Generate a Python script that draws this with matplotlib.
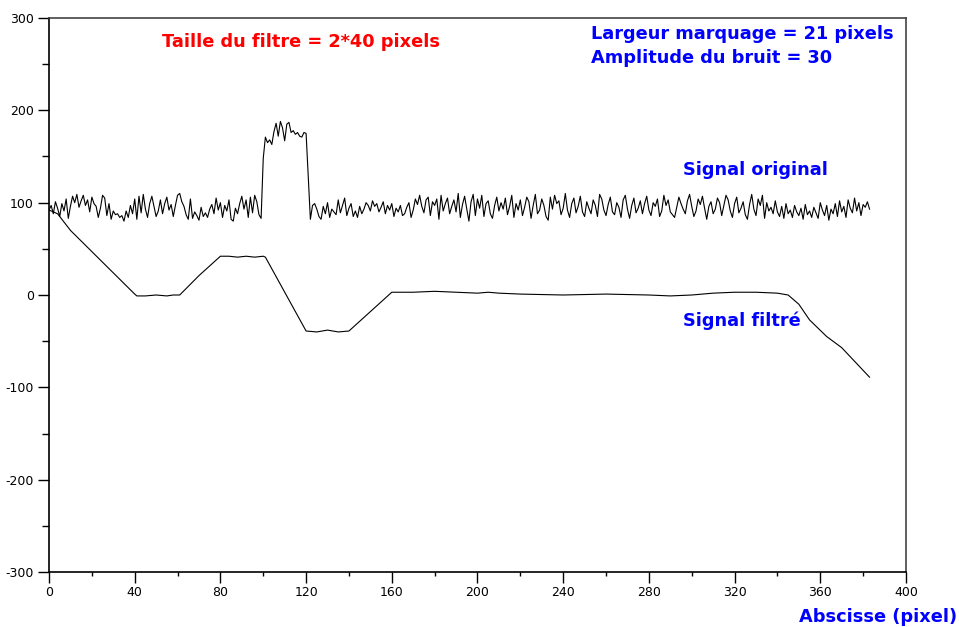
import numpy as np
import matplotlib
matplotlib.use("Agg")
from matplotlib import pyplot as plt
from matplotlib.ticker import MultipleLocator

# signal original : bruit sur 0..99, marquage 100..120, bruit 121..383
bruit_debut = [
    92, 97, 88, 101, 94, 85, 99, 91, 104, 83,
    96, 107, 100, 109, 95, 102, 108, 97, 103, 90,
    106, 99, 96, 84, 94, 108, 105, 86, 99, 82,
    91, 87, 88, 84, 86, 80, 91, 84, 97, 88,
    104, 82, 107, 89, 109, 93, 84, 99, 107, 96,
    85, 91, 103, 88, 99, 106, 92, 98, 85, 97,
    108, 110, 101, 96, 87, 82, 104, 83, 90, 86,
    81, 95, 85, 89, 84, 93, 98, 88, 105, 92,
    100, 84, 97, 91, 103, 82, 80, 94, 88, 99,
    107, 93, 103, 84, 106, 89, 108, 101, 87, 83,
]
marquage = [
    148, 171, 165, 168, 163, 177, 186, 172, 188, 181, 167,
    185, 187, 176, 178, 174, 176, 172, 171, 176, 175,
]
bruit_fin = [
    128, 82, 97, 99, 93, 85, 82, 96, 88, 100,
    84, 93, 90, 87, 103, 89, 97, 105, 86, 94,
    99, 85, 91, 84, 96, 88, 93, 100, 97, 91,
    102, 96, 99, 90, 95, 101, 88, 97, 92, 99,
    85, 94, 90, 97, 86, 88, 95, 100, 84, 92,
    104, 98, 108, 96, 89, 103, 106, 86, 101, 97,
    104, 82, 108, 91, 99, 105, 88, 96, 103, 90,
    110, 84, 98, 107, 93, 80, 101, 109, 86, 104,
    94, 108, 85, 99, 102, 88, 83, 97, 106, 91,
    100, 93, 105, 87, 96, 108, 84, 99, 92, 103,
    86, 95, 106, 101, 83, 97, 109, 88, 92, 104,
    97, 85, 81, 106, 93, 108, 99, 102, 87, 94,
    110, 92, 84, 99, 105, 89, 96, 107, 90, 85,
    101, 94, 88, 103, 97, 85, 109, 104, 92, 86,
    98, 106, 90, 87, 100, 95, 84, 103, 108, 93,
    83, 97, 105, 89, 94, 102, 88, 99, 107, 92,
    86, 100, 96, 104, 85, 91, 108, 97, 103, 90,
    87, 84, 95, 106, 99, 93, 88, 102, 109, 96,
    85, 91, 104, 98, 107, 94, 82, 96, 101, 88,
    93, 105, 100, 86, 97, 108, 103, 91, 84, 99,
    106, 89, 94, 101, 87, 82, 98, 109, 93, 86,
    104, 97, 108, 83, 100, 91, 95, 88, 102, 90,
    85, 96, 83, 99, 88, 92, 84, 97, 90, 86,
    94, 82, 98, 87, 91, 84, 95, 89, 83, 100,
    92, 86, 97, 81, 93, 88, 99, 85, 102, 90,
    96, 84, 103, 94, 89, 105, 91, 100, 86, 98,
    95, 101, 93,
]
signal_original = bruit_debut + marquage + bruit_fin

# signal filtre (points releves)
filtre_x = [0, 4, 10, 20, 30, 40, 41, 45, 50, 55, 58, 61, 70, 80, 84, 88, 92, 96,
            100, 101, 120, 125, 130, 135, 140, 160, 170, 180,
            190, 200, 205, 210, 220, 240, 260, 280, 290, 300, 310, 320, 330, 340, 345, 350,
            355, 363, 370, 383]
filtre_y = [92, 88, 70, 47, 24, 1, -1, -1, 0, -1, 0, 0, 21, 42, 42, 41, 42, 41,
            42, 41, -39, -40, -38, -40, -39, 3, 3, 4,
            3, 2, 3, 2, 1, 0, 1, 0, -1, 0, 2, 3, 3, 2, 0, -10,
            -27, -45, -57, -89]

plt.rcParams['axes.unicode_minus'] = False

fig = plt.figure(figsize=(9.59, 6.27), dpi=100)
ax = fig.add_axes([0.0511, 0.0877, 0.8936, 0.8836])

x = np.arange(len(signal_original))
ax.plot(x, signal_original, color='black', lw=0.8)
ax.plot(filtre_x, filtre_y, color='black', lw=0.8)

ax.set_xlim(0, 400)
ax.set_ylim(-300, 300)
ax.xaxis.set_major_locator(MultipleLocator(40))
ax.xaxis.set_minor_locator(MultipleLocator(20))
ax.yaxis.set_major_locator(MultipleLocator(100))
ax.yaxis.set_minor_locator(MultipleLocator(50))
ax.tick_params(which='major', direction='out', length=8, width=1, labelsize=9)
ax.tick_params(axis='y', which='major', pad=3)
ax.tick_params(axis='x', which='major', pad=2)
ax.tick_params(axis='x', which='minor', direction='out', length=3, width=1)
ax.tick_params(axis='y', which='minor', direction='out', length=5, width=1)
for s in ax.spines.values():
    s.set_linewidth(1.2)
ax.spines['right'].set_color('#444444')
ax.spines['top'].set_color('#444444')

police = dict(family='DejaVu Sans', fontweight='bold', fontsize=12.8)
ax.text(52.7, 274, "Taille du filtre = 2*40 pixels", color='#ff0000', va='center', **police)
ax.text(253, 282.7, "Largeur marquage = 21 pixels", color='#0000ff', va='center', **police)
ax.text(253, 256.7, "Amplitude du bruit = 30", color='#0000ff', va='center', **police)
ax.text(296, 135.4, "Signal original", color='#0000ff', va='center', **police)
ax.text(296, -28, "Signal filtré", color='#0000ff', va='center', **police)
fig.text(0.998, 0.016, "Abscisse (pixel)", color='#0000ff', ha='right', va='center', **police)

fig.savefig("out.png", dpi=100)
